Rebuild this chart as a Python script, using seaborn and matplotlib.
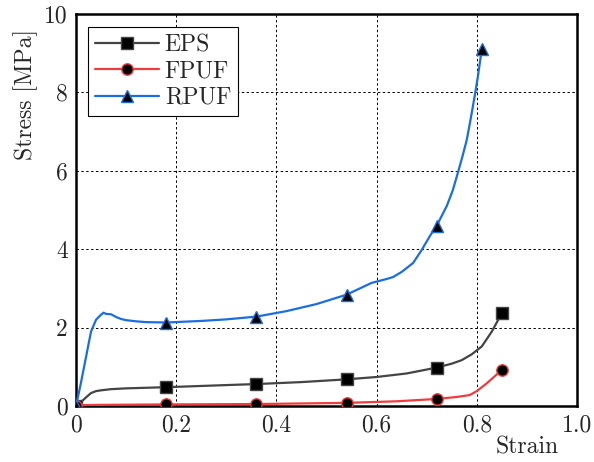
import numpy as np
import matplotlib
matplotlib.use("Agg")
import matplotlib.pyplot as plt
import seaborn as sns

# ---- data ----
series_names = ["EPS", "FPUF", "RPUF"]

eps_strain = [0, 0.01, 0.02, 0.03, 0.04, 0.05, 0.07, 0.10, 0.18, 0.27, 0.36, 0.45, 0.54,
              0.60, 0.66, 0.72, 0.75, 0.77, 0.79, 0.81, 0.83, 0.85]
eps_stress = [0, 0.10, 0.22, 0.33, 0.38, 0.40, 0.43, 0.45, 0.48, 0.52, 0.56, 0.61, 0.68,
              0.74, 0.83, 0.98, 1.08, 1.17, 1.32, 1.52, 1.90, 2.37]

fpuf_strain = [0, 0.01, 0.05, 0.18, 0.36, 0.54, 0.64, 0.72, 0.76, 0.786, 0.80, 0.82, 0.835, 0.85]
fpuf_stress = [0, 0.02, 0.03, 0.04, 0.05, 0.08, 0.12, 0.18, 0.23, 0.28, 0.38, 0.58, 0.75, 0.92]

rpuf_strain = [0, 0.01, 0.02, 0.03, 0.04, 0.05, 0.055, 0.06, 0.07, 0.08, 0.09, 0.10, 0.12,
               0.14, 0.18, 0.25, 0.30, 0.36, 0.42, 0.48, 0.54, 0.59, 0.62, 0.633, 0.65,
               0.673, 0.69, 0.707, 0.72, 0.74, 0.752, 0.762, 0.771, 0.78, 0.786, 0.792,
               0.797, 0.802, 0.806, 0.81]
rpuf_stress = [0, 0.60, 1.25, 1.90, 2.20, 2.33, 2.38, 2.35, 2.34, 2.27, 2.22, 2.19, 2.16,
               2.14, 2.13, 2.17, 2.21, 2.28, 2.42, 2.60, 2.84, 3.14, 3.24, 3.29, 3.42,
               3.65, 3.98, 4.35, 4.60, 5.10, 5.50, 5.94, 6.35, 6.79, 7.20, 7.63,
               8.00, 8.39, 8.75, 9.10]

marker_strains = [0, 0.18, 0.36, 0.54, 0.72]

x_ticks = [0, 0.2, 0.4, 0.6, 0.8, 1.0]
x_tick_labels = ["0", "0.2", "0.4", "0.6", "0.8", "1.0"]
y_ticks = [0, 2, 4, 6, 8, 10]
y_tick_labels = ["0", "2", "4", "6", "8", "10"]

# ---- style ----
sns.set_style("white")
plt.rcParams["font.family"] = ["serif"]
plt.rcParams["font.serif"] = ["cmr10", "DejaVu Serif"]
plt.rcParams["mathtext.fontset"] = "cm"
plt.rcParams["axes.formatter.use_mathtext"] = True

fig = plt.figure(figsize=(5.94, 4.62), dpi=100)
ax = fig.add_axes([76 / 594, 1 - 406 / 462, (577 - 76) / 594, (406 - 14) / 462])

colors = {"EPS": "#444444", "FPUF": "#f03c3c", "RPUF": "#1a6ee0"}
markers = {"EPS": "s", "FPUF": "o", "RPUF": "^"}
msize = {"EPS": 8.8, "FPUF": 8.2, "RPUF": 9.2}
data = {"EPS": (eps_strain, eps_stress), "FPUF": (fpuf_strain, fpuf_stress),
        "RPUF": (rpuf_strain, rpuf_stress)}

for name in series_names:
    xs, ys = data[name]
    idx = [xs.index(m) for m in marker_strains] + [len(xs) - 1]
    sns.lineplot(x=xs, y=ys, ax=ax, sort=False, estimator=None, color=colors[name],
                 lw=1.6, marker=markers[name], markevery=idx, markersize=msize[name],
                 markerfacecolor="black", markeredgecolor=colors[name], markeredgewidth=1.0,
                 label=name, zorder=3)

ax.set_xlim(0, 1.0)
ax.set_ylim(0, 10)
ax.set_xticks(x_ticks)
ax.set_xticklabels(x_tick_labels)
ax.set_yticks(y_ticks)
ax.set_yticklabels(y_tick_labels)
ax.tick_params(axis="both", length=0, pad=6, labelsize=17)
ax.grid(True, color="black", linestyle=(0, (2.5, 2.5)), linewidth=0.7)
for s in ax.spines.values():
    s.set_color("black")
    s.set_linewidth(1.8)

ax.set_xlabel("Strain", fontsize=17)
ax.xaxis.set_label_coords(0.90, -0.077)
ax.set_ylabel("Stress [MPa]", fontsize=17)
ax.yaxis.set_label_coords(-0.076, 0.795)

leg = ax.legend(loc="upper left", bbox_to_anchor=(0.024, 0.967), fontsize=17,
                frameon=True, fancybox=False, edgecolor="black", framealpha=1,
                handlelength=2.7, handletextpad=0.25, borderpad=0.3, labelspacing=0.18,
                borderaxespad=0)
leg.get_frame().set_linewidth(0.8)

fig.savefig("out.png", dpi=100)
